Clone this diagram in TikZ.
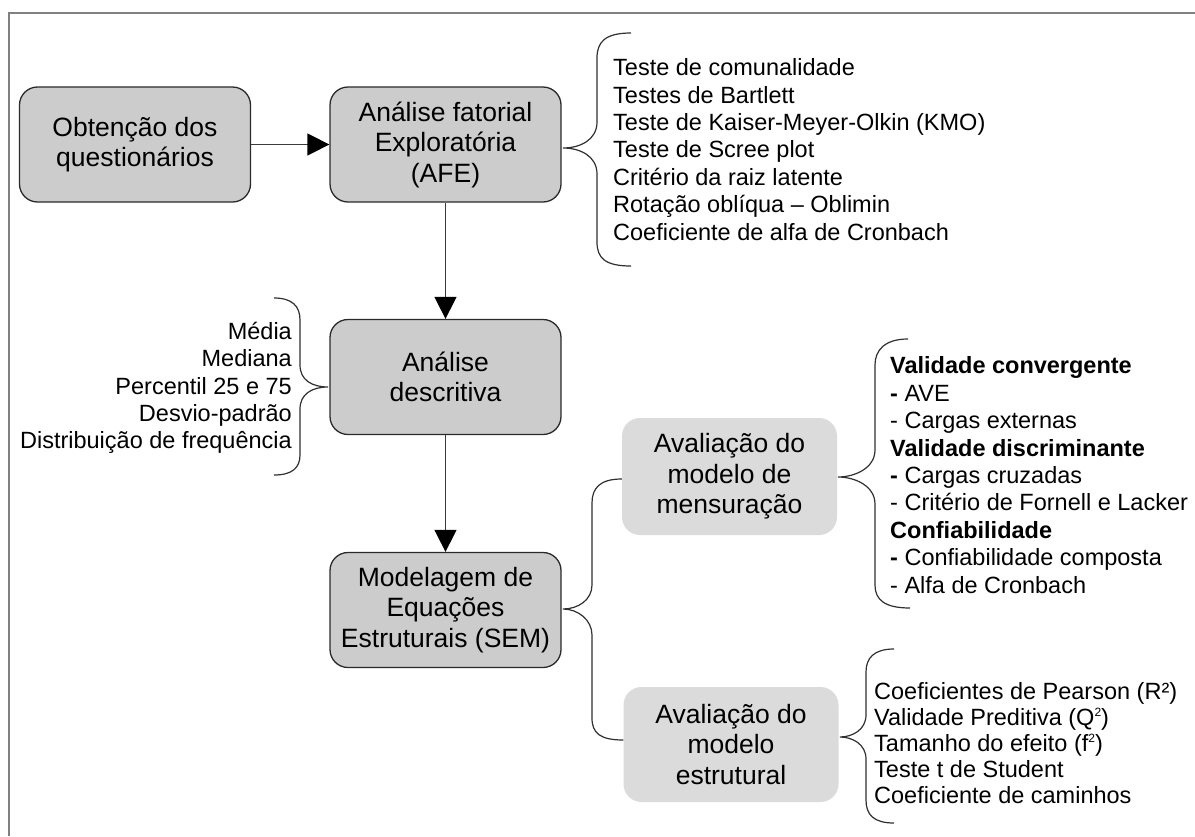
\documentclass[tikz,border=0pt]{standalone}
\usepackage{fontspec}
\setmainfont{Liberation Sans}
\usetikzlibrary{arrows.meta}
\definecolor{darkfill}{HTML}{CCCCCC}
\definecolor{lightfill}{HTML}{DBDBDB}
\definecolor{boxline}{HTML}{2A2A2A}
\definecolor{lineclr}{HTML}{3A3A3A}
\definecolor{braceclr}{HTML}{303030}
\definecolor{framec}{HTML}{808080}
\newcommand{\bxfont}{\fontsize{26.5}{30.5}\selectfont}
\newcommand{\lsfont}{\fontsize{23.5}{27.4}\selectfont}
\newcommand{\smalltwo}{\raisebox{0.75ex}{\fontsize{12}{12}\selectfont 2}}
\begin{document}
\begin{tikzpicture}[x=1pt,y=-1pt,
  darkbox/.style={draw=boxline, fill=darkfill, rounded corners=18pt, line width=1.3pt,
    minimum width=231pt, minimum height=115pt, align=center, inner sep=0pt, font=\bxfont},
  lightbox/.style={fill=lightfill, rounded corners=18pt,
    minimum width=215pt, minimum height=117pt, align=center, inner sep=0pt, font=\bxfont},
  listtxt/.style={inner sep=0pt, font=\lsfont},
  flow/.style={draw=lineclr, line width=1.5pt, -{Triangle[length=22pt,width=22pt,color=black]}},
  bracec/.style={draw=braceclr, line width=1.2pt},
]
\useasboundingbox (0,0) rectangle (1195,836);
% outer frame (only top and left edges visible)
\draw[framec, line width=2pt] (8.7,836) -- (8.7,13.3) -- (1195,13.3);

% main boxes
\node[darkbox] (obt)  at (135,144.5)   {Obtenção dos\\questionários};
\node[darkbox] (afe)  at (445.5,144.5) {Análise fatorial\\Exploratória\\(AFE)};
\node[darkbox] (desc) at (445.5,377)   {Análise\\descritiva};
\node[darkbox] (sem)  at (445.5,610)   {Modelagem de\\Equações\\Estruturais (SEM)};
\node[lightbox] (mens) at (729.5,476.5) {Avaliação do\\modelo de\\mensuração};
\node[lightbox, minimum height=115pt] (estr) at (731,744.5) {Avaliação do\\modelo\\estrutural};

% arrows
\draw[flow] (obt.east) -- (afe.west);
\draw[flow] (afe.south) -- (desc.north);
\draw[flow] (desc.south) -- (sem.north);

% lists
\node[listtxt, align=left, anchor=west] (afel) at (613,149.5)
  {Teste de comunalidade\\Testes de Bartlett\\Teste de Kaiser-Meyer-Olkin (KMO)\\Teste de Scree plot\\Critério da raiz latente\\Rotação oblíqua -- Oblimin\\Coeficiente de alfa de Cronbach};
\node[listtxt, align=right, anchor=east] (descl) at (292,388)
  {Média\\Mediana\\Percentil 25 e 75\\Desvio-padrão\\Distribuição de frequência};
\node[listtxt, align=left, anchor=west] (mensl) at (890,475)
  {\textbf{Validade convergente}\\\textbf{-} AVE\\- Cargas externas\\\textbf{Validade discriminante}\\\textbf{-} Cargas cruzadas\\- Critério de Fornell e Lacker\\\textbf{Confiabilidade}\\\textbf{-} Confiabilidade composta\\- Alfa de Cronbach};
\node[listtxt, align=left, anchor=west, font=\fontsize{23.5}{25.8}\selectfont] (estrl) at (874,743)
  {Coeficientes de Pearson (R²)\\Validade Preditiva (Q\smalltwo)\\Tamanho do efeito (f\smalltwo)\\Teste t de Student\\Coeficiente de caminhos};

% braces
\draw[bracec] (631,33) .. controls (605,33) and (597,42) .. (597,58) -- (597,122)
  .. controls (597,140) and (580,148) .. (563,148)
  .. controls (580,148) and (597,156) .. (597,174) -- (597,242)
  .. controls (597,258) and (605,266) .. (631,266);
\draw[bracec] (274,298) .. controls (292,298) and (300,306) .. (300,320) -- (300,365)
  .. controls (300,380) and (312,387) .. (328,387)
  .. controls (312,387) and (300,394) .. (300,409) -- (300,455)
  .. controls (300,468) and (292,475) .. (274,475);
\draw[bracec] (908,339) .. controls (885,339) and (875,350) .. (875,365) -- (875,450)
  .. controls (875,468) and (855,477) .. (838,477)
  .. controls (855,477) and (875,486) .. (875,504) -- (875,585)
  .. controls (875,600) and (885,608) .. (910,608);
\draw[bracec] (894,649) .. controls (874,649) and (866,658) .. (866,672) -- (866,715)
  .. controls (866,730) and (852,737) .. (840,737)
  .. controls (852,737) and (866,744) .. (866,759) -- (866,800)
  .. controls (866,815) and (874,823) .. (894,823);
\draw[bracec] (mens.west |- 0,479) .. controls (600,479) and (592,488) .. (592,503) -- (592,585)
  .. controls (592,600) and (578,609) .. (563,609)
  .. controls (578,609) and (592,620) .. (592,635) -- (592,718)
  .. controls (592,733) and (600,740) .. (estr.west |- 0,740);
\end{tikzpicture}
\end{document}
